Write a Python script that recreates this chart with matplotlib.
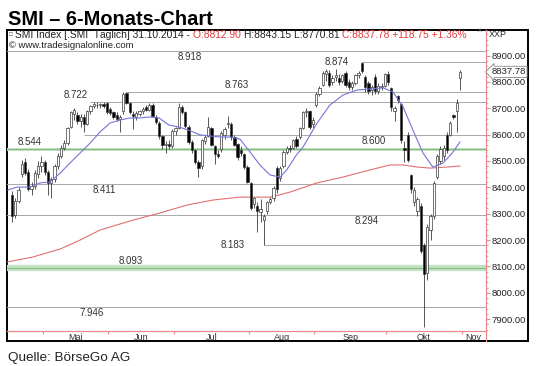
import numpy as np
import matplotlib
matplotlib.use("Agg")
import matplotlib.pyplot as plt
from matplotlib.lines import Line2D

plt.rcParams['font.family'] = ['Liberation Sans', 'DejaVu Sans']

# daily candles, 15.04.2014 - 31.10.2014
opens = [8370, 8295, 8350, 8450, 8495, 8460, 8395, 8405, 8450, 8480,
         8495, 8460, 8415, 8430, 8480, 8520, 8550, 8570, 8630, 8680,
         8675, 8650, 8665, 8640, 8688, 8708, 8714, 8712, 8716, 8718,
         8698, 8685, 8675, 8660, 8690, 8758, 8718, 8680, 8665, 8680,
         8688, 8705, 8695, 8712, 8668, 8645, 8595, 8560, 8565, 8555,
         8615, 8625, 8705, 8685, 8630, 8572, 8540, 8498, 8480, 8575,
         8595, 8625, 8555, 8525, 8545, 8600, 8640, 8640, 8590, 8565,
         8540, 8525, 8478, 8415, 8335, 8330, 8305, 8278, 8310, 8345,
         8360, 8475, 8435, 8480, 8535, 8548, 8550, 8585, 8590, 8625,
         8685, 8690, 8640, 8712, 8755, 8790, 8830, 8835, 8800, 8820,
         8815, 8805, 8835, 8800, 8780, 8795, 8825, 8870, 8820, 8795,
         8770, 8818, 8765, 8780, 8785, 8830, 8775, 8690, 8745, 8715,
         8550, 8600, 8445, 8345, 8310, 8330, 8180, 8075, 8240, 8290,
         8440, 8500, 8520, 8600, 8600, 8675, 8690, 8812.90]
highs = [8385, 8360, 8400, 8505, 8510, 8470, 8420, 8465, 8500, 8520,
         8505, 8465, 8440, 8490, 8530, 8560, 8580, 8630, 8690, 8700,
         8685, 8680, 8680, 8695, 8712, 8722, 8722, 8720, 8722, 8722,
         8705, 8690, 8685, 8675, 8763, 8763, 8725, 8690, 8690, 8695,
         8705, 8712, 8718, 8720, 8675, 8650, 8600, 8575, 8580, 8620,
         8630, 8720, 8712, 8690, 8635, 8580, 8545, 8505, 8585, 8600,
         8665, 8630, 8560, 8540, 8615, 8630, 8670, 8648, 8600, 8570,
         8555, 8530, 8485, 8420, 8365, 8345, 8355, 8300, 8350, 8365,
         8405, 8480, 8480, 8540, 8555, 8560, 8585, 8595, 8630, 8690,
         8700, 8695, 8665, 8760, 8785, 8840, 8850, 8845, 8825, 8850,
         8830, 8830, 8840, 8810, 8805, 8830, 8840, 8874, 8825, 8805,
         8790, 8830, 8795, 8795, 8835, 8840, 8780, 8710, 8750, 8720,
         8575, 8610, 8450, 8400, 8365, 8340, 8190, 8260, 8300, 8425,
         8525, 8555, 8560, 8610, 8650, 8680, 8735, 8843.15]
lows = [8270, 8285, 8340, 8440, 8445, 8385, 8370, 8395, 8435, 8460,
        8445, 8370, 8360, 8420, 8470, 8510, 8540, 8560, 8625, 8655,
        8640, 8630, 8610, 8635, 8680, 8700, 8702, 8700, 8702, 8680,
        8675, 8660, 8650, 8610, 8680, 8715, 8680, 8620, 8655, 8670,
        8680, 8690, 8690, 8665, 8640, 8585, 8545, 8530, 8545, 8550,
        8600, 8620, 8680, 8625, 8565, 8530, 8490, 8440, 8470, 8565,
        8590, 8555, 8490, 8510, 8535, 8585, 8625, 8580, 8555, 8505,
        8520, 8470, 8415, 8315, 8320, 8230, 8270, 8183, 8300, 8335,
        8350, 8380, 8425, 8475, 8525, 8535, 8545, 8550, 8585, 8620,
        8665, 8620, 8625, 8705, 8745, 8785, 8805, 8780, 8790, 8805,
        8790, 8795, 8780, 8770, 8770, 8790, 8815, 8835, 8760, 8755,
        8750, 8755, 8755, 8770, 8780, 8790, 8690, 8650, 8720, 8570,
        8495, 8495, 8380, 8330, 8290, 8150, 7871, 8050, 8200, 8280,
        8430, 8490, 8505, 8530, 8595, 8660, 8610, 8770.81]
closes = [8290, 8350, 8390, 8490, 8455, 8395, 8405, 8455, 8480, 8495,
          8460, 8415, 8430, 8480, 8520, 8550, 8570, 8625, 8685, 8695,
          8650, 8668, 8640, 8688, 8708, 8715, 8712, 8716, 8710, 8685,
          8682, 8668, 8660, 8668, 8755, 8720, 8685, 8670, 8682, 8688,
          8698, 8695, 8712, 8670, 8648, 8595, 8560, 8565, 8555, 8615,
          8625, 8705, 8685, 8632, 8572, 8540, 8498, 8475, 8578, 8592,
          8628, 8562, 8525, 8520, 8605, 8622, 8645, 8590, 8562, 8515,
          8530, 8478, 8420, 8322, 8358, 8310, 8318, 8292, 8345, 8355,
          8398, 8392, 8472, 8535, 8550, 8545, 8580, 8555, 8625, 8685,
          8690, 8630, 8655, 8755, 8775, 8835, 8840, 8790, 8815, 8825,
          8800, 8825, 8790, 8780, 8795, 8825, 8835, 8840, 8782, 8765,
          8782, 8765, 8785, 8785, 8828, 8800, 8705, 8700, 8730, 8580,
          8540, 8505, 8395, 8390, 8355, 8160, 8070, 8250, 8290, 8415,
          8520, 8545, 8550, 8540, 8645, 8665, 8719.03, 8837.78]

# trading days per month: Apr (from 15th), Mai, Jun, Jul, Aug, Sep, Okt
month_days = [10, 20, 20, 23, 20, 22, 23]
month_names = ['Mai', 'Jun', 'Jul', 'Aug', 'Sep', 'Okt', 'Nov']

# moving averages (sampled from the chart)
ma_short_idx = [-1.2, 1.5, 5.5, 8.6, 11.6, 14.7, 17.7, 20.8, 23.9, 26.9, 30, 33, 36, 39,
                42, 45, 48, 51, 54, 57.5, 60.5, 63.6, 66.7, 69.7, 72.8, 75.8, 78.9, 82,
                84, 87, 89, 93.3, 97.2, 101.2, 105.5, 109.5, 113.5, 116.5, 119.6, 122.6,
                125.7, 128.7, 131.8, 134.6, 137]
ma_short_val = [8390, 8401, 8401, 8417, 8420, 8454, 8492, 8530, 8568, 8610, 8644, 8655,
                8663, 8663, 8667, 8663, 8636, 8629, 8617, 8599, 8595, 8591, 8591, 8583,
                8534, 8485, 8447, 8439, 8466, 8523, 8553, 8644, 8712, 8750, 8769, 8773,
                8777, 8762, 8705, 8617, 8530, 8477, 8492, 8530, 8572]
ma_long_idx = [-1.5, 6.4, 14.7, 20.8, 26.9, 37, 45.3, 53.5, 61.5, 69.7, 79, 85, 93.3,
               101.2, 109.5, 115.6, 119.6, 123.9, 127.8, 133, 137]
ma_long_val = [8117, 8136, 8166, 8200, 8238, 8276, 8303, 8333, 8352, 8363, 8363, 8382,
               8417, 8439, 8466, 8485, 8485, 8477, 8473, 8477, 8481]

# support / resistance levels: value, start index, label x (index), label offset
levels = [8918, 8874, 8763, 8722, 8600, 8544, 8411, 8294, 8183, 8093, 7946]
level_start = [None, 107, 35, 24, 22, None, None, None, 77, None, None]
level_lab_x = [54.4, 99.4, 68.8, 19.6, 110.7, 5.3, 28.1, 108.6, 67.6, 36.4, 24.5]
level_lab_pos = ['below', 'beside', 'above', 'above', 'below', 'above',
                 'below', 'below', 'beside', 'above', 'below']
green_levels = [8544, 8093]

header_parts = ['SMI Index [.SMI  Täglich] 31.10.2014 - ', 'O:8812.90 ',
                'H:8843.15 L:8770.81 ', 'C:8837.78 +118.75 +1.36%']
header_cols = ['#222222', '#e23b3b', '#222222', '#e23b3b']

W, H = 540, 366
fig = plt.figure(figsize=(W / 100, H / 100), dpi=100)


def fx(px):
    return px / W


def fy(py):
    return 1 - py / H


# outer frame
frame = fig.add_axes([fx(7), fy(341), fx(528 - 7), (341 - 30) / H])
frame.set_xticks([])
frame.set_yticks([])
for s in frame.spines.values():
    s.set_color('black')
    s.set_linewidth(1.4)
frame.set_zorder(0)

ax = fig.add_axes([fx(7), fy(331), fx(486 - 7), (331 - 30) / H])
ax.set_facecolor('none')
ax.set_zorder(1)
ax.set_xlim(-1.53, 144.95)
ax.set_ylim(7855.3, 8996.7)

pink = '#e88a8a'
for side in ['left', 'top']:
    ax.spines[side].set_visible(False)
ax.spines['right'].set_color(pink)
ax.spines['bottom'].set_color(pink)
ax.spines['right'].set_linewidth(0.9)
ax.spines['bottom'].set_linewidth(0.9)
fig.add_artist(Line2D([fx(486), fx(486)], [fy(331), fy(341)], color=pink, lw=0.9))
fig.add_artist(Line2D([fx(486), fx(486)], [fy(30), fy(31)], color=pink, lw=0.9))

# levels
n = len(closes)
for lv, st, lx, pos in zip(levels, level_start, level_lab_x, level_lab_pos):
    if lv in green_levels:
        wide = 4.5 if lv == 8093 else 2.2
        ax.axhline(lv, color='#c4e3c4', lw=wide, zorder=1)
        ax.axhline(lv, color='#86bb86', lw=0.8, zorder=1)
    elif st is None:
        ax.axhline(lv, color='#a8a8a8', lw=0.7, zorder=1)
    else:
        ax.hlines(lv, st, 144.95, color='#a8a8a8', lw=0.7, zorder=1)
    off = {'above': 5.0, 'below': -4.3, 'beside': 0}[pos]
    ax.annotate('{:.3f}'.format(lv / 1000), xy=(lx, lv), xytext=(0, off),
                textcoords='offset points', ha='center', va='center',
                fontsize=7, color='#333333', zorder=2)

# moving averages
ax.plot(ma_long_idx, ma_long_val, color='#e07070', lw=0.8, zorder=2)
ax.plot(ma_short_idx, ma_short_val, color='#7575d8', lw=0.8, zorder=4)

# candles
idx = np.arange(n)
o = np.array(opens)
c = np.array(closes)
ax.vlines(idx, lows, highs, color='#3a3a3a', lw=0.6, zorder=3)
up = c >= o
body_col = np.where(up, 'white', 'black')
ax.bar(idx, np.maximum(np.abs(c - o), 1.5), bottom=np.minimum(o, c), width=0.7,
       color=body_col, edgecolor='#3a3a3a', linewidth=0.5, zorder=3)

# price axis
ax.yaxis.tick_right()
ax.set_yticks(np.arange(7900, 8901, 100))
ax.set_yticklabels(['{:.2f}'.format(v) for v in np.arange(7900, 8901, 100)])
ax.set_yticks(np.arange(7860, 8990, 20), minor=True)
ax.tick_params(axis='y', which='major', length=3, color=pink, labelsize=6.8,
               labelcolor='#222222', pad=1)
ax.tick_params(axis='y', which='minor', length=1.5, color=pink)
ax.annotate('{:.2f}'.format(closes[-1]), xy=(1, closes[-1]),
            xycoords=('axes fraction', 'data'), xytext=(4, 0), textcoords='offset points',
            va='center', ha='left', fontsize=6.8, color='#222222', zorder=6,
            bbox=dict(boxstyle='larrow,pad=0.12', fc='white', ec='#888888', lw=0.6))

# month axis
bounds = np.cumsum(month_days) - 0.5
ax.set_xticks(bounds)
ax.set_xticklabels([])
ax.tick_params(axis='x', length=2.5, color=pink)
centers = list((bounds[:-1] + bounds[1:]) / 2) + [141]
for m, xc in zip(month_names, centers):
    ax.text(xc, -0.005, m, transform=ax.get_xaxis_transform(), ha='center', va='top',
            fontsize=6.5, color='#333333')

# header text inside the chart, pieces laid out one after another
renderer = fig.canvas.get_renderer()
hy = fy(34.5)
px_pos = 15
for part, col in zip(header_parts, header_cols):
    t = fig.text(fx(px_pos), hy, part, fontsize=7.4, va='center', color=col)
    px_pos += t.get_window_extent(renderer).width
fig.text(fx(9), hy, '\u25a1', fontsize=4.5, va='center', color='#555555')
fig.text(fx(9), fy(45), '\u00a9 www.tradesignalonline.com', fontsize=6.8, va='center',
         color='#222222')
fig.text(fx(489), hy, 'XXP', fontsize=6.5, va='center', color='#222222')
fig.text(fx(478), fy(32), '\u02c4', fontsize=5, va='center', color='#666666')

# title and source
fig.text(fx(8), fy(25), 'SMI \u2013 6-Monats-Chart', fontsize=14.4, fontweight='bold',
         va='baseline')
fig.text(fx(8), fy(361), 'Quelle: BörseGo AG', fontsize=9.7, va='baseline',
         color='#222222')

fig.savefig('out.png', dpi=100)
